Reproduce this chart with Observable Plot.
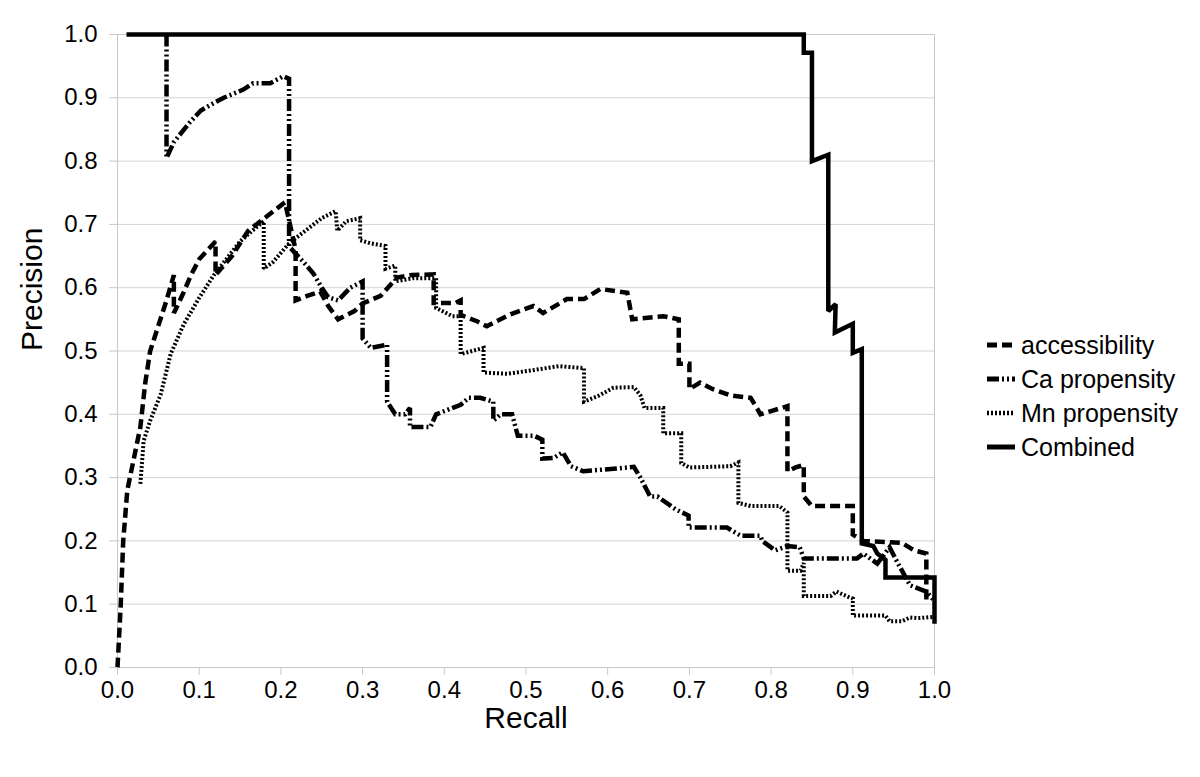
<!DOCTYPE html>
<html>
<head>
<meta charset="utf-8">
<script src="https://cdn.jsdelivr.net/npm/d3@7"></script>
<script src="https://cdn.jsdelivr.net/npm/@observablehq/plot@0.6"></script>
<style>
  body { margin: 0; background: #fff; font-family: "Liberation Sans", Arial, sans-serif; }
  #wrap { position: relative; width: 1200px; height: 777px; }
  #legend { position: absolute; left: 986px; top: 328px; }
  .row { display: flex; align-items: center; height: 34px; font-size: 25px; color: #000; }
  .row svg { margin-right: 5px; }
</style>
</head>
<body>
<div id="wrap"><div id="chart"></div><div id="legend"></div></div>
<script>
// Tick labels
const xTicks = [0, 0.1, 0.2, 0.3, 0.4, 0.5, 0.6, 0.7, 0.8, 0.9, 1.0];
const yTicks = [0, 0.1, 0.2, 0.3, 0.4, 0.5, 0.6, 0.7, 0.8, 0.9, 1.0];

// Series names (legend order)
const seriesNames = ["accessibility", "Ca propensity", "Mn propensity", "Combined"];

// [recall, precision] pairs
const accessibility = [
  [0,0],[0.004,0.1],[0.007,0.2],[0.012,0.28],[0.02,0.33],[0.028,0.38],[0.034,0.45],[0.04,0.5],
  [0.05,0.54],[0.06,0.58],[0.069,0.62],[0.069,0.56],[0.08,0.59],[0.09,0.62],[0.1,0.645],[0.12,0.673],
  [0.12,0.62],[0.14,0.65],[0.16,0.69],[0.18,0.71],[0.205,0.735],[0.218,0.66],[0.218,0.58],[0.232,0.587],
  [0.248,0.594],[0.258,0.571],[0.27,0.55],[0.29,0.563],[0.3,0.575],[0.322,0.587],[0.342,0.616],[0.36,0.62],
  [0.387,0.621],[0.387,0.576],[0.414,0.576],[0.42,0.58],[0.42,0.557],[0.44,0.547],[0.452,0.539],[0.481,0.558],
  [0.509,0.571],[0.521,0.56],[0.55,0.582],[0.571,0.582],[0.591,0.598],[0.624,0.592],[0.63,0.55],[0.668,0.555],
  [0.687,0.55],[0.687,0.48],[0.7,0.48],[0.7,0.44],[0.713,0.45],[0.728,0.44],[0.75,0.43],[0.775,0.426],
  [0.787,0.40],[0.80,0.405],[0.82,0.413],[0.82,0.31],[0.83,0.316],[0.84,0.32],[0.84,0.27],[0.85,0.255],
  [0.9,0.255],[0.9,0.21],[0.913,0.2],[0.96,0.197],[0.975,0.185],[0.99,0.18],[0.99,0.10]
];
const caPropensity = [
  [0.06,1.0],[0.06,0.805],[0.069,0.83],[0.089,0.862],[0.102,0.88],[0.114,0.889],[0.13,0.9],[0.154,0.913],
  [0.166,0.923],[0.187,0.923],[0.203,0.934],[0.21,0.93],[0.21,0.665],[0.228,0.64],[0.24,0.622],[0.25,0.6],
  [0.258,0.585],[0.27,0.58],[0.285,0.6],[0.3,0.61],[0.3,0.52],[0.31,0.505],[0.33,0.51],[0.33,0.42],
  [0.34,0.40],[0.352,0.40],[0.358,0.41],[0.358,0.38],[0.383,0.38],[0.39,0.40],[0.42,0.415],[0.43,0.426],
  [0.444,0.426],[0.46,0.42],[0.46,0.39],[0.469,0.40],[0.483,0.40],[0.49,0.366],[0.51,0.366],[0.52,0.36],
  [0.52,0.33],[0.534,0.331],[0.545,0.34],[0.555,0.318],[0.57,0.31],[0.607,0.314],[0.632,0.317],[0.64,0.30],
  [0.652,0.27],[0.661,0.27],[0.683,0.25],[0.699,0.24],[0.699,0.221],[0.746,0.221],[0.763,0.208],[0.787,0.208],
  [0.789,0.2],[0.805,0.185],[0.82,0.192],[0.835,0.19],[0.84,0.172],[0.905,0.172],[0.913,0.18],[0.93,0.164],
  [0.945,0.19],[0.955,0.165],[0.97,0.13],[0.99,0.12],[1.0,0.105]
];
const mnPropensity = [
  [0.028,0.29],[0.032,0.358],[0.04,0.39],[0.053,0.432],[0.065,0.495],[0.081,0.542],[0.10,0.584],[0.118,0.62],
  [0.15,0.673],[0.165,0.69],[0.179,0.705],[0.179,0.63],[0.19,0.64],[0.2,0.655],[0.21,0.67],[0.23,0.69],
  [0.25,0.71],[0.267,0.721],[0.269,0.69],[0.28,0.705],[0.297,0.71],[0.297,0.675],[0.31,0.67],[0.328,0.666],
  [0.328,0.63],[0.34,0.635],[0.34,0.61],[0.362,0.615],[0.39,0.615],[0.39,0.568],[0.41,0.555],[0.42,0.555],
  [0.42,0.495],[0.448,0.505],[0.448,0.466],[0.477,0.464],[0.51,0.47],[0.54,0.476],[0.571,0.473],[0.571,0.42],
  [0.59,0.43],[0.607,0.442],[0.632,0.443],[0.64,0.43],[0.645,0.41],[0.668,0.41],[0.668,0.37],[0.69,0.37],
  [0.69,0.323],[0.70,0.316],[0.75,0.318],[0.76,0.324],[0.76,0.26],[0.775,0.255],[0.81,0.255],[0.82,0.245],
  [0.82,0.153],[0.836,0.153],[0.84,0.165],[0.84,0.113],[0.873,0.113],[0.88,0.12],[0.897,0.11],[0.9,0.109],
  [0.9,0.082],[0.94,0.082],[0.945,0.073],[0.96,0.073],[0.97,0.079],[0.98,0.078],[1.0,0.08]
];
const combined = [
  [0.011,1],[0.84,1],[0.84,0.971],[0.85,0.971],[0.85,0.80],[0.87,0.81],[0.87,0.563],[0.879,0.574],
  [0.878,0.529],[0.90,0.543],[0.90,0.497],[0.911,0.503],[0.911,0.196],[0.925,0.192],[0.93,0.18],[0.94,0.17],
  [0.94,0.142],[1.0,0.142],[1.0,0.069]
];

const seriesData = [accessibility, caPropensity, mnPropensity, combined];
const seriesStyle = [
  {strokeWidth: 4.5, strokeDasharray: "10,5"},
  {strokeWidth: 4.5, strokeDasharray: "12,3,2,3,2,3"},
  {strokeWidth: 4, strokeDasharray: "2,2"},
  {strokeWidth: 4.5, strokeDasharray: null}
];

const rows = seriesNames.flatMap((name, i) =>
  seriesData[i].map(([r, p]) => ({series: name, recall: r, precision: p})));

const font = "'Liberation Sans', Arial, sans-serif";

const chart = Plot.plot({
  width: 1200,
  height: 777,
  marginLeft: 117,
  marginRight: 266,
  marginTop: 34,
  marginBottom: 110,
  style: {fontFamily: font, background: "#fff", color: "#000"},
  x: {domain: [0, 1]},
  y: {domain: [0, 1]},
  marks: [
    Plot.gridY(yTicks, {stroke: "#d4d4d4", strokeOpacity: 1, strokeWidth: 1}),
    Plot.frame({stroke: "#c8c8c8", strokeWidth: 1}),
    ...seriesNames.map((name, i) => Plot.line(rows.filter(d => d.series === name), {
      x: "recall", y: "precision",
      stroke: "#000",
      strokeWidth: seriesStyle[i].strokeWidth,
      strokeDasharray: seriesStyle[i].strokeDasharray,
      strokeLinecap: "butt",
      strokeLinejoin: "miter",
      strokeMiterlimit: 2
    })),
    Plot.axisX({ticks: xTicks, tickFormat: d => d.toFixed(1), tickSize: 8, tickPadding: 5,
      stroke: "#c8c8c8", fill: "#000", fontSize: 24, label: null}),
    Plot.axisY({ticks: yTicks, tickFormat: d => d.toFixed(1), tickSize: 8, tickPadding: 12,
      stroke: "#c8c8c8", fill: "#000", fontSize: 24, label: null}),
    Plot.text(["Recall"], {text: d => d, frameAnchor: "bottom", dy: 51, lineAnchor: "middle",
      fontSize: 30, fill: "#000"}),
    Plot.text(["Precision"], {text: d => d, frameAnchor: "left", dx: -85, lineAnchor: "middle",
      rotate: -90, fontSize: 30, fill: "#000"})
  ]
});
document.getElementById("chart").appendChild(chart);

// Legend
const legend = d3.select("#legend");
seriesNames.forEach((name, i) => {
  const row = legend.append("div").attr("class", "row");
  const svg = row.append("svg").attr("width", 30).attr("height", 12);
  svg.append("line").attr("x1", 1).attr("x2", 29).attr("y1", 6).attr("y2", 6)
    .attr("stroke", "#000")
    .attr("stroke-width", seriesStyle[i].strokeWidth + 0.5)
    .attr("stroke-dasharray", seriesStyle[i].strokeDasharray);
  row.append("span").text(name);
});
</script>
</body>
</html>
